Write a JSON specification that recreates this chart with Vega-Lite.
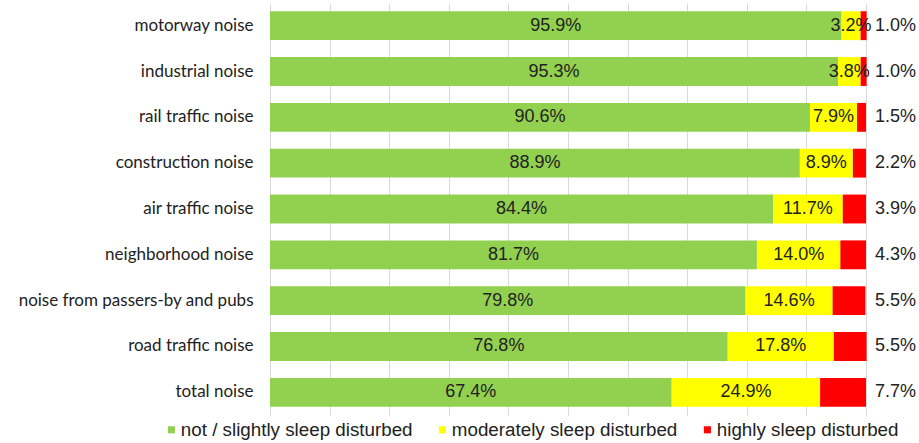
{
  "$schema": "https://vega.github.io/schema/vega-lite/v6.json",
  "width": 596,
  "height": 412,
  "autosize": {"type": "none"},
  "padding": {"left": 270, "top": 3, "right": 53, "bottom": 28},
  "background": "white",
  "config": {"view": {"stroke": null}},
  "data": {
    "values": [
      {"noise": "motorway noise", "level": "not / slightly sleep disturbed", "value": 95.9},
      {"noise": "motorway noise", "level": "moderately sleep disturbed", "value": 3.2},
      {"noise": "motorway noise", "level": "highly sleep disturbed", "value": 1.0},
      {"noise": "industrial noise", "level": "not / slightly sleep disturbed", "value": 95.3},
      {"noise": "industrial noise", "level": "moderately sleep disturbed", "value": 3.8},
      {"noise": "industrial noise", "level": "highly sleep disturbed", "value": 1.0},
      {"noise": "rail traffic noise", "level": "not / slightly sleep disturbed", "value": 90.6},
      {"noise": "rail traffic noise", "level": "moderately sleep disturbed", "value": 7.9},
      {"noise": "rail traffic noise", "level": "highly sleep disturbed", "value": 1.5},
      {"noise": "construction noise", "level": "not / slightly sleep disturbed", "value": 88.9},
      {"noise": "construction noise", "level": "moderately sleep disturbed", "value": 8.9},
      {"noise": "construction noise", "level": "highly sleep disturbed", "value": 2.2},
      {"noise": "air traffic noise", "level": "not / slightly sleep disturbed", "value": 84.4},
      {"noise": "air traffic noise", "level": "moderately sleep disturbed", "value": 11.7},
      {"noise": "air traffic noise", "level": "highly sleep disturbed", "value": 3.9},
      {"noise": "neighborhood noise", "level": "not / slightly sleep disturbed", "value": 81.7},
      {"noise": "neighborhood noise", "level": "moderately sleep disturbed", "value": 14.0},
      {"noise": "neighborhood noise", "level": "highly sleep disturbed", "value": 4.3},
      {"noise": "noise from passers-by and pubs", "level": "not / slightly sleep disturbed", "value": 79.8},
      {"noise": "noise from passers-by and pubs", "level": "moderately sleep disturbed", "value": 14.6},
      {"noise": "noise from passers-by and pubs", "level": "highly sleep disturbed", "value": 5.5},
      {"noise": "road traffic noise", "level": "not / slightly sleep disturbed", "value": 76.8},
      {"noise": "road traffic noise", "level": "moderately sleep disturbed", "value": 17.8},
      {"noise": "road traffic noise", "level": "highly sleep disturbed", "value": 5.5},
      {"noise": "total noise", "level": "not / slightly sleep disturbed", "value": 67.4},
      {"noise": "total noise", "level": "moderately sleep disturbed", "value": 24.9},
      {"noise": "total noise", "level": "highly sleep disturbed", "value": 7.7}
    ]
  },
  "encoding": {
    "y": {
      "field": "noise",
      "type": "nominal",
      "sort": null,
      "title": null,
      "scale": {"paddingInner": 0.37, "paddingOuter": 0.18},
      "axis": {
        "domain": false,
        "ticks": false,
        "labelFont": "Lato",
        "labelFontSize": 17,
        "labelColor": "#222222",
        "labelPadding": 17,
        "labelLimit": 300,
        "grid": false
      }
    }
  },
  "layer": [
    {
      "mark": {"type": "bar"},
      "encoding": {
        "x": {
          "field": "value",
          "type": "quantitative",
          "stack": "zero",
          "scale": {"domain": [0, 100], "nice": false},
          "title": null,
          "axis": {
            "grid": true,
            "gridColor": "#d9d9d9",
            "gridWidth": 1,
            "values": [0, 10, 20, 30, 40, 50, 60, 70, 80, 90, 100],
            "labels": false,
            "domain": false,
            "ticks": false
          }
        },
        "color": {
          "field": "level",
          "type": "nominal",
          "scale": {
            "domain": ["not / slightly sleep disturbed", "moderately sleep disturbed", "highly sleep disturbed"],
            "range": ["#92D050", "#FFFF00", "#FF0000"]
          },
          "legend": {
            "title": null,
            "orient": "none",
            "direction": "horizontal",
            "legendX": -108,
            "legendY": 417,
            "symbolType": "square",
            "symbolSize": 50,
            "symbolStrokeWidth": 0,
            "labelFont": "Liberation Sans",
            "labelFontSize": 18.8,
            "labelColor": "#222222",
            "labelOffset": 0,
            "columnPadding": 20,
            "labelLimit": 400
          }
        },
        "order": {"field": "level", "sort": "descending"}
      }
    },
    {
      "transform": [
        {"filter": "datum.level !== 'highly sleep disturbed'"},
        {"stack": "value", "groupby": ["noise"], "sort": [{"field": "level", "order": "descending"}], "as": ["s0", "s1"]},
        {"calculate": "(datum.s0 + datum.s1) / 2", "as": "mid"},
        {"calculate": "format(datum.value, '.1f') + '%'", "as": "label"}
      ],
      "mark": {"type": "text", "font": "Liberation Sans", "fontSize": 18, "color": "#222222", "align": "center", "baseline": "middle"},
      "encoding": {
        "x": {"field": "mid", "type": "quantitative"},
        "text": {"field": "label", "type": "nominal"}
      }
    },
    {
      "transform": [
        {"filter": "datum.level === 'highly sleep disturbed'"},
        {"calculate": "format(datum.value, '.1f') + '%'", "as": "label"}
      ],
      "mark": {"type": "text", "font": "Liberation Sans", "fontSize": 18, "color": "#222222", "align": "left", "baseline": "middle", "dx": 9},
      "encoding": {
        "x": {"datum": 100, "type": "quantitative"},
        "text": {"field": "label", "type": "nominal"}
      }
    }
  ]
}
